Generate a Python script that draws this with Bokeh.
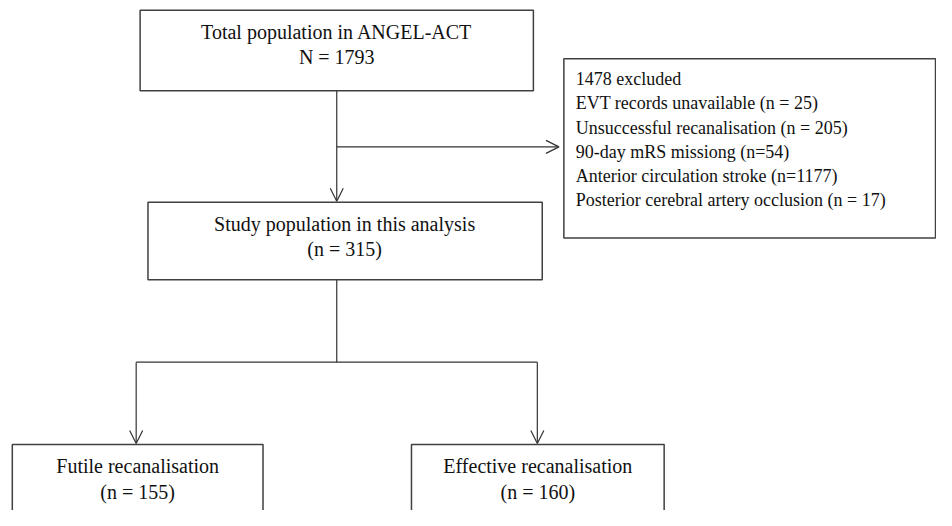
from bokeh.plotting import figure
from bokeh.models import Range1d, Arrow, OpenHead, ColumnDataSource
from bokeh.core.properties import value
from bokeh.embed import file_html
from bokeh.resources import INLINE

# ---- data (texts and counts) ----
total_label = "Total population in ANGEL-ACT"
total_n = 1793
excluded_n = 1478
excluded_reasons = [
    "EVT records unavailable (n = 25)",
    "Unsuccessful recanalisation (n = 205)",
    "90-day mRS missiong (n=54)",
    "Anterior circulation stroke (n=1177)",
    "Posterior cerebral artery occlusion (n = 17)",
]
study_label = "Study population in this analysis"
study_n = 315
group_labels = ["Futile recanalisation", "Effective recanalisation"]
group_n = [155, 160]

# ---- layout (reference-pixel coordinates, y downwards) ----
W, H = 936, 510
p = figure(width=W, height=H, output_backend="svg", toolbar_location=None,
           x_range=Range1d(0, 952), y_range=Range1d(526, 0),
           min_border=0)
p.axis.visible = False
p.grid.visible = False
p.outline_line_color = None
p.background_fill_color = "white"
p.border_fill_color = "white"

BOX_COLOR = "#404040"
LINE_COLOR = "#333333"
FONT = value("Liberation Serif")

boxes = dict(
    left=[142, 573, 150, 12, 418],
    right=[542, 951, 551, 267, 675],
    top=[10, 60, 208, 458, 458],
    bottom=[93, 245, 288, 545, 545],
)
p.quad(source=ColumnDataSource(boxes), left="left", right="right", top="top",
       bottom="bottom", fill_color="white", line_color=BOX_COLOR, line_width=1.5)

# centered texts
cx = [342, 342, 350, 350, 139.5, 139.5, 546.5, 546.5]
cy = [32, 58, 230, 256, 480, 507, 480, 507]
ctext = [total_label, f"N = {total_n}", study_label, f"(n = {study_n})",
         group_labels[0], f"(n = {group_n[0]})", group_labels[1], f"(n = {group_n[1]})"]
p.text(x=cx, y=cy, text=ctext, text_font=FONT, text_font_size="20px",
       text_align="center", text_baseline="middle", text_color="#111111")

# excluded list (left aligned)
ex_lines = [f"{excluded_n} excluded"] + excluded_reasons
ex_y = [81 + 25 * i for i in range(len(ex_lines))]
p.text(x=[585] * len(ex_lines), y=ex_y, text=ex_lines, text_font=FONT,
       text_font_size="18px", text_align="left", text_baseline="middle",
       text_color="#111111")

# connectors
def arrow(x0, y0, x1, y1):
    p.add_layout(Arrow(end=OpenHead(size=13, line_color=LINE_COLOR, line_width=1.2),
                       x_start=x0, y_start=y0, x_end=x1, y_end=y1,
                       line_color=LINE_COLOR, line_width=1.2))

arrow(342, 93, 342, 207)
arrow(342, 151, 568, 151)
p.segment(x0=[342, 138], y0=[288, 373], x1=[342, 546], y1=[373, 373],
          line_color=LINE_COLOR, line_width=1.2)
arrow(138, 373, 138, 457)
arrow(546, 373, 546, 457)

open("out.html", "w").write(file_html(p, INLINE))
